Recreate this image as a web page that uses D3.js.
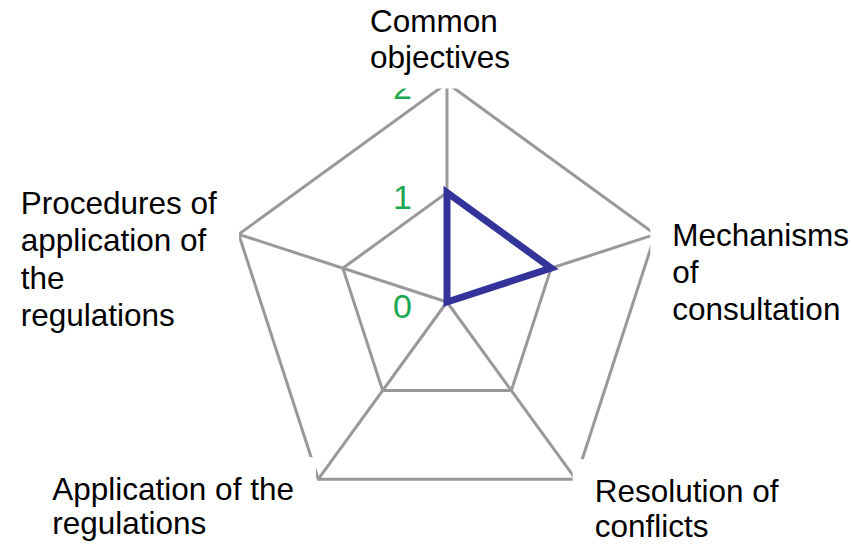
<!DOCTYPE html>
<html>
<head>
<meta charset="utf-8">
<script src="https://cdn.jsdelivr.net/npm/d3@7.9.0/dist/d3.min.js"></script>
<style>
  html, body { margin: 0; padding: 0; background: #fff; }
  svg { display: block; font-family: "Liberation Sans", Arial, sans-serif; }
</style>
</head>
<body>
<svg id="radar" width="852" height="545"></svg>
<script>
// Data
const categories = [
  'Common\nobjectives',
  'Mechanisms\nof\nconsultation',
  'Resolution of\nconflicts',
  'Application of the\nregulations',
  'Procedures of\napplication of\nthe\nregulations'
];
const values = [1, 1, 0, 0, 0];
const levels = [1, 2];
const ticks = [0, 1, 2];
const tickLabels = ['0', '1', '2'];

// Layout
const cx = 447, cy = 302;
const radius = 219;
const padX = 22, padY = 14;

// label block offset from its axis end (first line baseline) and line spacing
const labelOffsets = [
  { dx: -77, dy: -51, lh: 35.5 },
  { dx: 17, dy: 12, lh: 37 },
  { dx: 19, dy: 23, lh: 34.5 },
  { dx: -266, dy: 21, lh: 34 },
  { dx: -218, dy: -20.5, lh: 37.5 }
];

const svg = d3.select('#radar');

const r = d3.scaleLinear().domain([0, 2]).range([0, radius]);
const angle = d3.scaleLinear().domain([0, categories.length]).range([0, 2 * Math.PI]);

function point(i, v) {
  const a = angle(i);
  return [cx + r(v) * Math.sin(a), cy - r(v) * Math.cos(a)];
}

const radar = d3.lineRadial()
  .angle((d, i) => angle(i))
  .radius((d) => r(d))
  .curve(d3.curveLinearClosed);

const g = svg.append('g').attr('transform', `translate(${cx},${cy})`);

// Grid rings
g.selectAll('path.ring')
  .data(levels)
  .join('path')
  .attr('class', 'ring')
  .attr('d', (lv) => radar(categories.map(() => lv)))
  .attr('fill', 'none')
  .attr('stroke', '#999')
  .attr('stroke-width', 3);

// Spokes
g.selectAll('line.spoke')
  .data(categories)
  .join('line')
  .attr('class', 'spoke')
  .attr('x1', 0)
  .attr('y1', 0)
  .attr('x2', (d, i) => point(i, 2)[0] - cx)
  .attr('y2', (d, i) => point(i, 2)[1] - cy)
  .attr('stroke', '#999')
  .attr('stroke-width', 3);

// Series
g.append('path')
  .attr('d', radar(values))
  .attr('fill', 'none')
  .attr('stroke', '#333399')
  .attr('stroke-width', 7)
  .attr('stroke-linejoin', 'miter');

// Tick labels
svg.selectAll('text.tick')
  .data(ticks)
  .join('text')
  .attr('class', 'tick')
  .attr('x', cx - 35)
  .attr('y', (d) => cy - r(d) + 16)
  .attr('text-anchor', 'end')
  .attr('font-size', 34)
  .attr('fill', '#1aa84f')
  .text((d, i) => tickLabels[i]);

// Axis labels with white boxes (they hide the line ends under them)
categories.forEach((name, i) => {
  const [px, py] = point(i, 2);
  const off = labelOffsets[i];
  const lab = svg.append('g');
  const rect = lab.append('rect').attr('fill', '#fff');
  const text = lab.append('text')
    .attr('font-size', 31.5)
    .attr('fill', '#000');
  name.split('\n').forEach((line, k) => {
    text.append('tspan')
      .attr('x', px + off.dx)
      .attr('y', py + off.dy + k * off.lh)
      .text(line);
  });
  const bb = text.node().getBBox();
  rect.attr('x', bb.x - padX)
    .attr('y', bb.y - padY)
    .attr('width', bb.width + 2 * padX)
    .attr('height', bb.height + 2 * padY);
});
</script>
</body>
</html>
